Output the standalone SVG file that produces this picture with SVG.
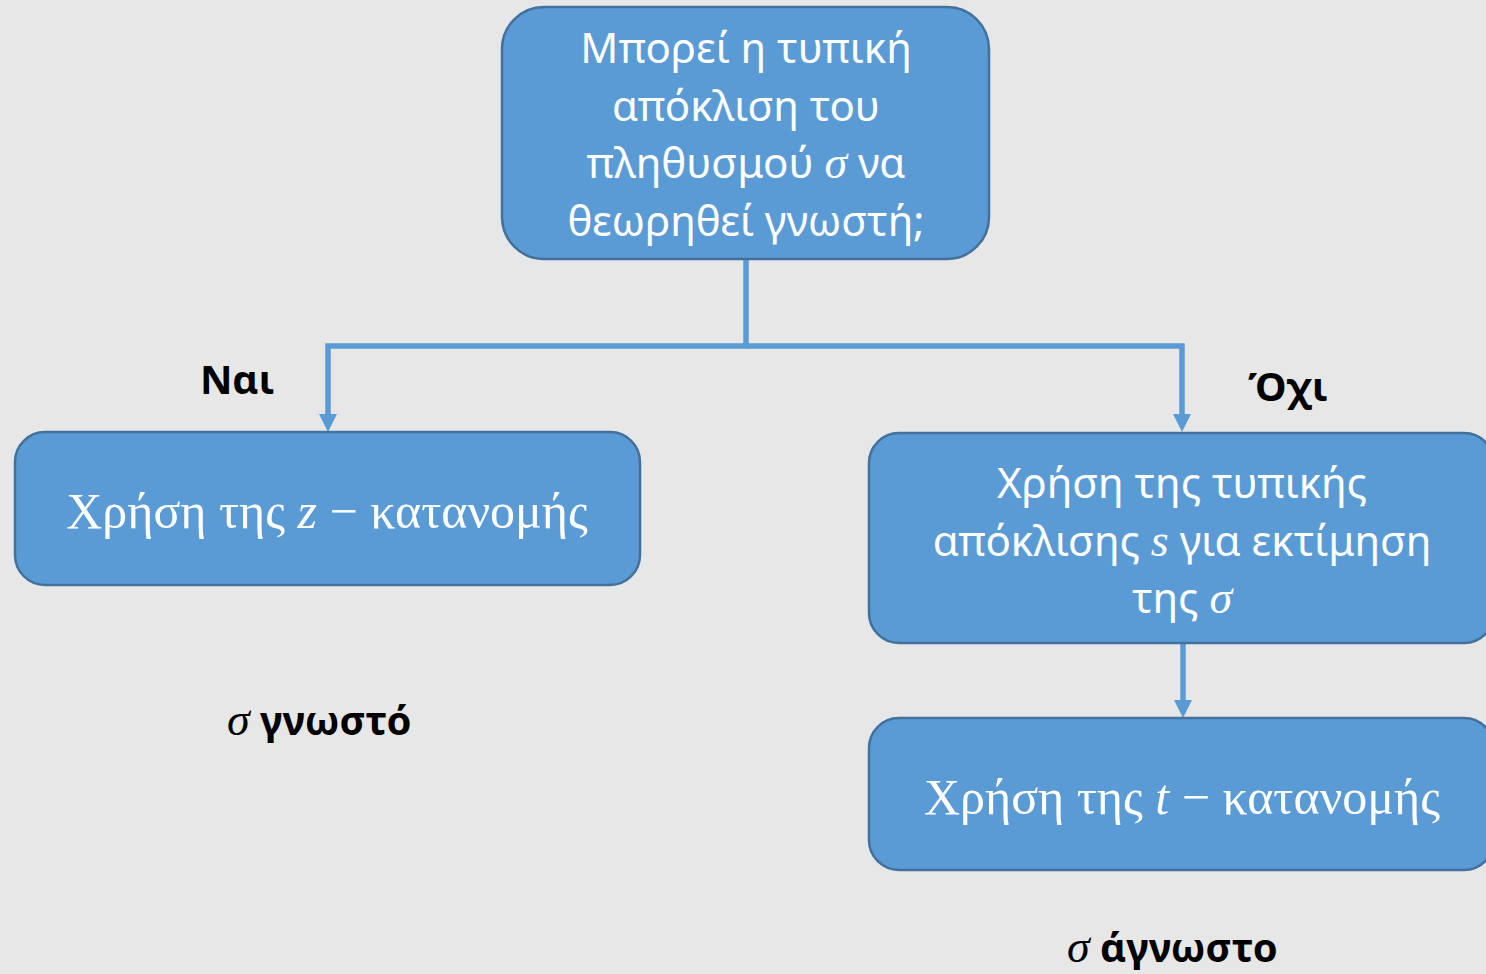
<svg xmlns="http://www.w3.org/2000/svg" width="1486" height="974" viewBox="0 0 1486 974">
<style>
.box{fill:#5b9bd5;stroke:#41719c;stroke-width:2.5}
.t{font-family:"Noto Sans","Open Sans",sans-serif;font-size:42px;fill:#ffffff;text-anchor:middle}
.m{font-family:"Liberation Serif","DejaVu Serif",serif;font-size:50px;fill:#ffffff;text-anchor:middle}
.mi{font-family:"Liberation Serif","DejaVu Serif",serif;font-style:italic}
.lb{font-family:"Noto Sans","Open Sans",sans-serif;font-weight:bold;font-size:40px;fill:#000000}
.ls{font-family:"Liberation Serif","DejaVu Serif",serif;font-style:italic;font-weight:normal;font-size:46px}
.conn{fill:none;stroke:#5b9bd5;stroke-width:5.5}
.ah{fill:#5b9bd5}
</style>
<rect width="1486" height="974" fill="#e7e7e7"/>
<g id="connectors">
<path class="conn" d="M746,260 V346 H328 V414"/>
<path class="ah" d="M319,414 L337,414 L328,432 Z"/>
<path class="conn" d="M746,346 H1182 V414"/>
<path class="ah" d="M1173,414 L1191,414 L1182,432 Z"/>
<path class="conn" d="M1183,643 V700"/>
<path class="ah" d="M1174,700 L1192,700 L1183,718 Z"/>
</g>
<g id="question">
<rect class="box" x="502" y="7" width="487" height="252" rx="42"/>
<text class="t" x="746" y="63">Μπορεί η τυπική</text>
<text class="t" x="746" y="121">απόκλιση του</text>
<text class="t" x="746" y="178">πληθυσμού <tspan class="mi" font-size="46">σ</tspan> να</text>
<text class="t" x="746" y="236">θεωρηθεί γνωστή;</text>
</g>
<g id="z-dist">
<rect class="box" x="15" y="432" width="625" height="153" rx="30"/>
<text class="m" x="327" y="528">Χρήση της <tspan class="mi">z</tspan> − κατανομής</text>
</g>
<g id="estimate">
<rect class="box" x="869" y="433" width="625" height="210" rx="30"/>
<text class="t" x="1182" y="498">Χρήση της τυπικής</text>
<text class="t" x="1182" y="556">απόκλισης <tspan class="mi" font-size="46">s</tspan> για εκτίμηση</text>
<text class="t" x="1182" y="613">της <tspan class="mi" font-size="46">σ</tspan></text>
</g>
<g id="t-dist">
<rect class="box" x="869" y="718" width="625" height="152" rx="30"/>
<text class="m" x="1182" y="814">Χρήση της <tspan class="mi">t</tspan> − κατανομής</text>
</g>
<g id="labels">
<text class="lb" x="200" y="394">Ναι</text>
<text class="lb" x="1248" y="401">Όχι</text>
<text class="lb" x="227" y="735"><tspan class="ls">σ</tspan> γνωστό</text>
<text class="lb" x="1067" y="962"><tspan class="ls">σ</tspan> άγνωστο</text>
</g>
</svg>
